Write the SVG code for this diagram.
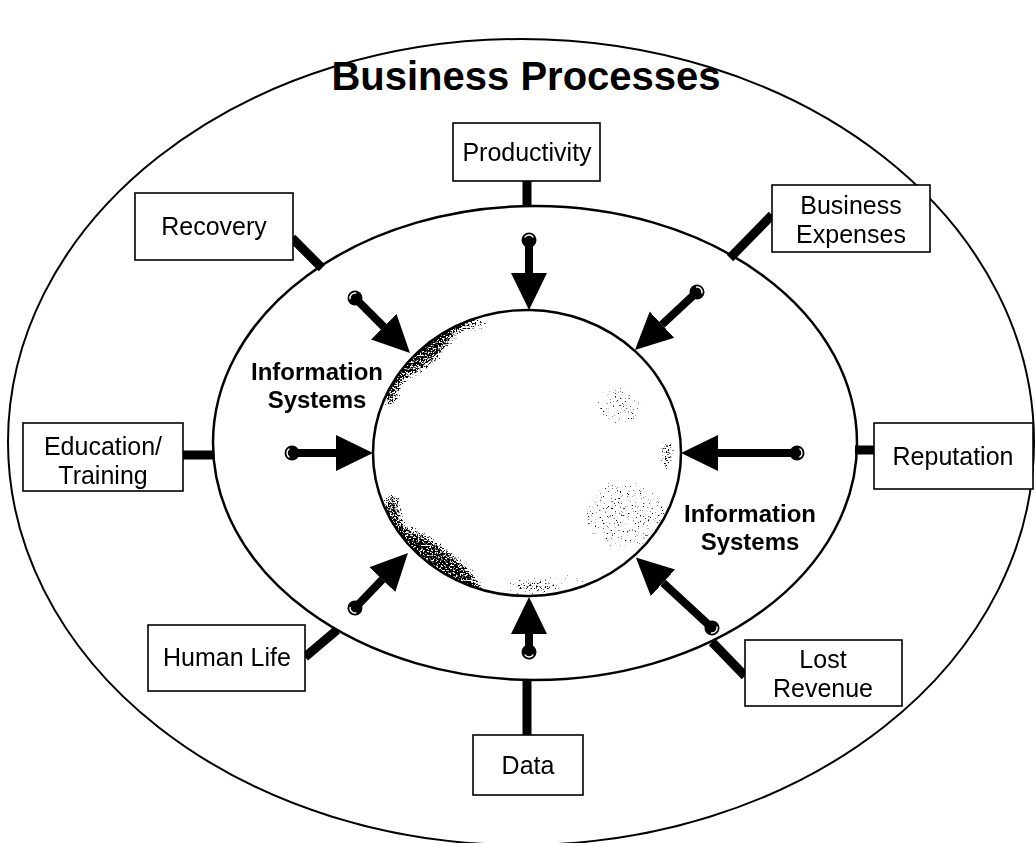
<svg xmlns="http://www.w3.org/2000/svg" width="1036" height="843" viewBox="0 0 1036 843">
<style>
.bg{fill:#fff}
.ring{fill:none;stroke:#000}
.box{fill:#fff;stroke:#000;stroke-width:1.6}
.lbl{font-family:"Liberation Sans",Arial,sans-serif;font-size:25px;fill:#000;text-anchor:middle}
.bold{font-family:"Liberation Sans",Arial,sans-serif;font-weight:bold;fill:#000;text-anchor:middle}
.stem{stroke:#000;stroke-width:9;fill:none}
.arrow{stroke:#000;stroke-width:8;fill:none;marker-start:url(#ball);marker-end:url(#head)}
.dens{fill:#000}
</style>
<defs>
<marker id="head" markerUnits="userSpaceOnUse" viewBox="0 -20 40 40" refX="0" refY="0" markerWidth="40" markerHeight="40" orient="auto">
<path d="M0,-18 L37,0 L0,18 Z" fill="#000"/>
</marker>
<marker id="ball" markerUnits="userSpaceOnUse" viewBox="-10 -10 20 20" refX="0" refY="0" markerWidth="20" markerHeight="20" orient="auto">
<circle cx="0" cy="0" r="7.5" fill="#000"/>
<path d="M-2.5,-4.33 A5,5 0 0 0 -2.5,4.33" stroke="#fff" stroke-width="1.4" fill="none"/>
</marker>
<clipPath id="coreClip">
<ellipse cx="527" cy="453" rx="154" ry="143"/>
</clipPath>
<filter id="speck" x="360" y="300" width="340" height="310" filterUnits="userSpaceOnUse" color-interpolation-filters="sRGB">
<feGaussianBlur in="SourceAlpha" stdDeviation="6" result="d"/>
<feTurbulence type="fractalNoise" baseFrequency="0.6" numOctaves="2" seed="11" result="n"/>
<feColorMatrix in="n" type="matrix" values="0 0 0 0 0  0 0 0 0 0  0 0 0 0 0  1 0 0 0 0" result="na"/>
<feComposite in="d" in2="na" operator="arithmetic" k1="0" k2="8" k3="8" k4="-10.4" result="c"/>
<feColorMatrix in="c" type="matrix" values="0 0 0 0 0  0 0 0 0 0  0 0 0 0 0  0 0 0 1 0"/>
</filter>
</defs>
<rect class="bg" x="0" y="0" width="1036" height="843"/>

<g id="outer-ellipse">
<ellipse class="ring" cx="521" cy="442" rx="513" ry="403" stroke-width="2"/>
</g>
<g id="title">
<text class="bold" x="526" y="90" font-size="40">Business Processes</text>
</g>

<g id="connectors">
<line class="stem" x1="527" y1="181" x2="527" y2="207"/>
<line class="stem" x1="292" y1="238" x2="322" y2="268"/>
<line class="stem" x1="772" y1="215" x2="730" y2="258"/>
<line class="stem" x1="183" y1="455" x2="214" y2="455"/>
<line class="stem" x1="855" y1="450" x2="874" y2="450"/>
<line class="stem" x1="305" y1="657" x2="337" y2="630"/>
<line class="stem" x1="745" y1="676" x2="712" y2="642"/>
<line class="stem" x1="527" y1="679" x2="527" y2="735"/>
</g>

<g id="inner-ellipse">
<ellipse class="ring" cx="535" cy="443" rx="322" ry="237" stroke-width="2.5"/>
</g>

<g id="information-systems-core">
<ellipse cx="527" cy="453" rx="154" ry="143" fill="#fff"/>
<g clip-path="url(#coreClip)">
<g filter="url(#speck)">
<path d="M470,318 A154,143 0 0 0 400,560" fill="none" stroke="#000" stroke-width="20" opacity="0.78"/>
<ellipse class="dens" cx="420" cy="350" rx="50" ry="22" transform="rotate(-40 420 350)" opacity="0.94"/>
<ellipse class="dens" cx="390" cy="388" rx="14" ry="24" opacity="0.9"/>
<ellipse class="dens" cx="438" cy="563" rx="64" ry="20" transform="rotate(38 438 563)" opacity="0.96"/>
<ellipse class="dens" cx="392" cy="512" rx="14" ry="24" opacity="0.9"/>
<ellipse class="dens" cx="462" cy="324" rx="34" ry="10" opacity="0.84"/>
<ellipse class="dens" cx="620" cy="405" rx="30" ry="25" opacity="0.64"/>
<ellipse class="dens" cx="667" cy="455" rx="10" ry="22" opacity="0.85"/>
<ellipse class="dens" cx="625" cy="515" rx="50" ry="40" opacity="0.64"/>
<ellipse class="dens" cx="570" cy="582" rx="70" ry="14" opacity="0.6"/>
<ellipse class="dens" cx="530" cy="592" rx="30" ry="8" opacity="0.62"/>
</g>
</g>
<ellipse class="ring" cx="527" cy="453" rx="154" ry="143" stroke-width="2.5"/>
</g>

<g id="arrows">
<line class="arrow" x1="529" y1="240" x2="529" y2="273"/>
<line class="arrow" x1="529" y1="652" x2="529" y2="634"/>
<line class="arrow" x1="292" y1="453" x2="336" y2="453"/>
<line class="arrow" x1="797" y1="453" x2="718" y2="453"/>
<line class="arrow" x1="355" y1="298" x2="383.8" y2="326.8"/>
<line class="arrow" x1="697" y1="292" x2="662" y2="324.7"/>
<line class="arrow" x1="355" y1="608" x2="382.3" y2="579.6"/>
<line class="arrow" x1="712" y1="628" x2="663" y2="582.7"/>
</g>

<g id="label-is-left">
<text class="bold" x="317" y="380" font-size="24">Information</text>
<text class="bold" x="317" y="408" font-size="24">Systems</text>
</g>
<g id="label-is-right">
<text class="bold" x="750" y="522" font-size="24">Information</text>
<text class="bold" x="750" y="550" font-size="24">Systems</text>
</g>

<g id="node-productivity">
<rect class="box" x="453" y="123" width="147" height="58"/>
<text class="lbl" x="527" y="161">Productivity</text>
</g>
<g id="node-recovery">
<rect class="box" x="135" y="193" width="158" height="67"/>
<text class="lbl" x="214" y="235">Recovery</text>
</g>
<g id="node-business-expenses">
<rect class="box" x="772" y="185" width="158" height="67"/>
<text class="lbl" x="851" y="214">Business</text>
<text class="lbl" x="851" y="243">Expenses</text>
</g>
<g id="node-education-training">
<rect class="box" x="23" y="423" width="160" height="68"/>
<text class="lbl" x="103" y="455">Education/</text>
<text class="lbl" x="103" y="484">Training</text>
</g>
<g id="node-reputation">
<rect class="box" x="874" y="423" width="159" height="66"/>
<text class="lbl" x="953" y="465">Reputation</text>
</g>
<g id="node-human-life">
<rect class="box" x="148" y="625" width="157" height="66"/>
<text class="lbl" x="227" y="666">Human Life</text>
</g>
<g id="node-lost-revenue">
<rect class="box" x="745" y="640" width="157" height="66"/>
<text class="lbl" x="823" y="668">Lost</text>
<text class="lbl" x="823" y="697">Revenue</text>
</g>
<g id="node-data">
<rect class="box" x="473" y="735" width="110" height="60"/>
<text class="lbl" x="528" y="774">Data</text>
</g>
</svg>
